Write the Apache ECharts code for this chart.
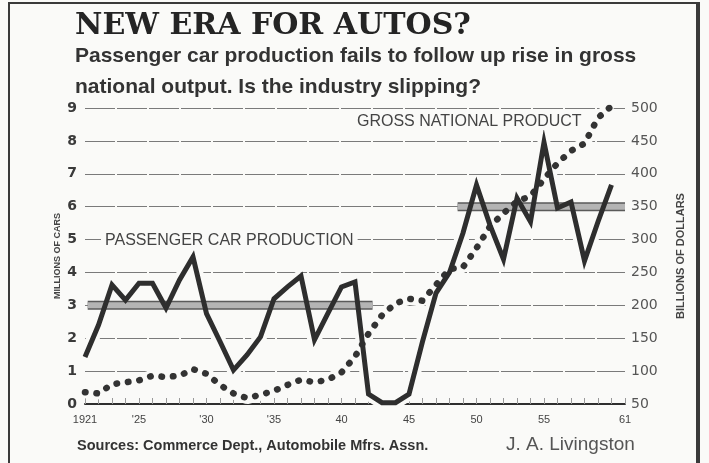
<!DOCTYPE html>
<html>
<head>
<meta charset="utf-8">
<title>New era for autos?</title>
<script src="https://cdn.jsdelivr.net/npm/echarts@6/dist/echarts.min.js"></script>
<style>
  html, body { margin: 0; padding: 0; background: #fafaf8; }
  #frame {
    position: absolute; left: 8px; top: 2px; width: 686px; height: 480px;
    border-left: 2px solid #3a3a3a; border-top: 2px solid #3a3a3a; border-right: 4px solid #3a3a3a;
  }
  #chart { position: absolute; left: 0; top: 0; width: 709px; height: 463px; }
</style>
</head>
<body>
<div id="frame"></div>
<div id="chart"></div>
<script>
// years on the x axis
const years = [
  1921, 1922, 1923, 1924, 1925, 1926, 1927, 1928, 1929, 1930,
  1931, 1932, 1933, 1934, 1935, 1936, 1937, 1938, 1939, 1940,
  1941, 1942, 1943, 1944, 1945, 1946, 1947, 1948, 1949, 1950,
  1951, 1952, 1953, 1954, 1955, 1956, 1957, 1958, 1959, 1960
]

// passenger car production, millions of cars (left axis)
const carProduction = [
  1.43, 2.4, 3.62, 3.16, 3.67, 3.67, 2.92, 3.77, 4.47, 2.75,
  1.9, 1.03, 1.49, 2.04, 3.2, 3.56, 3.89, 1.95, 2.76, 3.56,
  3.71, 0.3, 0.04, 0.04, 0.3, 1.9, 3.37, 4.0, 5.2, 6.66,
  5.44, 4.4, 6.26, 5.54, 7.96, 5.96, 6.14, 4.35, 5.54, 6.66
]

// gross national product, billions of dollars (right axis)
const gnp = [
  68, 66, 80, 83, 86, 93, 91, 93, 103, 96,
  79, 66, 59, 64, 70, 79, 87, 83, 87, 98,
  122, 157, 185, 203, 210, 207, 231, 255, 258, 287,
  320, 340, 358, 366, 392, 416, 435, 446, 485, 503
]

// average production levels drawn as shaded bands: [fromYear, toYear, level]
const carBands = [
  [1921.2, 1942.3, 3],
  [1948.6, 1961, 6]
]

const xTickYears = [1921, 1925, 1930, 1935, 1940, 1945, 1950, 1955, 1961]
const xTickLabels = ['1921', "'25", "'30", "'35", '40', '45', '50', '55', '61']

const carPoints = years.map((y, i) => [y, carProduction[i]])
const gnpPoints = years.map((y, i) => [y, gnp[i]])
// each band becomes a short flat segment, bands split by an empty point
const bandPoints = []
carBands.forEach((b, i) => {
  if (i > 0) bandPoints.push(['-', '-'])
  bandPoints.push([b[0], b[2]], [b[1], b[2]])
})

const ink = '#2e2e2e'
const paper = '#fafaf8'
const sans = 'Liberation Sans, Arial, sans-serif'
const wide = 'DejaVu Sans, sans-serif'

const chart = echarts.init(document.getElementById('chart'))

const option = {
  backgroundColor: 'transparent',
  animation: false,
  title: [
    {
      text: 'NEW ERA FOR AUTOS?',
      left: 75, top: 11, padding: 0,
      textStyle: { fontFamily: 'DejaVu Serif', fontWeight: 'bold', fontSize: 30, color: '#242424' }
    },
    {
      text: 'Passenger car production fails to follow up rise in gross\nnational output. Is the industry slipping?',
      left: 75, top: 41, padding: 0,
      textStyle: { fontFamily: sans, fontWeight: 'bold', fontSize: 21, lineHeight: 31, color: '#333' }
    },
    {
      text: 'PASSENGER CAR PRODUCTION',
      left: 101, top: 233, padding: [0, 4],
      backgroundColor: paper,
      textStyle: { fontFamily: sans, fontWeight: 'normal', fontSize: 16, color: '#444' }
    },
    {
      text: 'GROSS NATIONAL PRODUCT',
      left: 353, top: 114, padding: [0, 4],
      backgroundColor: paper,
      textStyle: { fontFamily: sans, fontWeight: 'normal', fontSize: 16, color: '#444' }
    },
    {
      text: 'Sources: Commerce Dept., Automobile Mfrs. Assn.',
      left: 77, top: 438, padding: 0,
      textStyle: { fontFamily: sans, fontWeight: 'bold', fontSize: 14.5, color: '#333' }
    },
    {
      text: 'J. A. Livingston',
      left: 506, top: 435, padding: 0,
      textStyle: { fontFamily: sans, fontWeight: 'normal', fontSize: 19, color: '#555' }
    }
  ],
  grid: { left: 85, right: 84, top: 108, bottom: 59 },
  xAxis: {
    type: 'value',
    min: 1921,
    max: 1961,
    interval: 1,
    axisLine: { show: true, lineStyle: { color: ink, width: 2 } },
    axisTick: { show: true, inside: true, length: 6, lineStyle: { color: '#999' } },
    splitLine: { show: false },
    axisLabel: {
      margin: 10,
      fontFamily: sans,
      fontSize: 11,
      color: '#444',
      formatter: (v) => {
        const idx = xTickYears.indexOf(v)
        return idx >= 0 ? xTickLabels[idx] : ''
      }
    }
  },
  yAxis: [
    {
      type: 'value',
      position: 'left',
      min: 0,
      max: 9,
      interval: 1,
      name: 'MILLIONS OF CARS',
      nameLocation: 'middle',
      nameRotate: 90,
      nameGap: 23,
      nameMoveOverlap: false,
      nameTextStyle: { fontFamily: sans, fontWeight: 'bold', fontSize: 9, color: '#444' },
      axisLine: { show: false },
      axisTick: { show: false },
      axisLabel: { margin: 8, fontFamily: wide, fontWeight: 'bold', fontSize: 14, color: '#3a3a3a' },
      splitLine: { show: true, lineStyle: { color: '#7a7a7a', width: 1, type: [30, 2] } }
    },
    {
      type: 'value',
      position: 'right',
      min: 50,
      max: 500,
      interval: 50,
      name: 'BILLIONS OF DOLLARS',
      nameLocation: 'middle',
      nameRotate: 90,
      nameGap: 50,
      nameTextStyle: { fontFamily: sans, fontWeight: 'bold', fontSize: 11, color: '#444' },
      axisLine: { show: false },
      axisTick: { show: false },
      axisLabel: { margin: 6, fontFamily: wide, fontSize: 14, color: '#555' },
      splitLine: { show: false }
    }
  ],
  series: [
    // white halos so grid lines break around the curves
    {
      type: 'line', yAxisIndex: 0, data: carPoints, showSymbol: false, silent: true, z: 2,
      lineStyle: { color: paper, width: 13 }
    },
    {
      type: 'line', yAxisIndex: 1, data: gnpPoints, showSymbol: false, silent: true, z: 2,
      lineStyle: { color: paper, width: 12 }
    },
    // shaded average bands: dark outline with a lighter core
    {
      type: 'line', yAxisIndex: 0, data: bandPoints, showSymbol: false, silent: true, z: 3,
      connectNulls: false,
      lineStyle: { color: '#5a5a5a', width: 9, cap: 'butt' }
    },
    {
      type: 'line', yAxisIndex: 0, data: bandPoints, showSymbol: false, silent: true, z: 3,
      connectNulls: false,
      lineStyle: { color: '#b4b4b4', width: 6, cap: 'butt' }
    },
    {
      name: 'Gross national product',
      type: 'line',
      yAxisIndex: 1,
      data: gnpPoints,
      showSymbol: false,
      z: 4,
      lineStyle: { color: '#333', width: 6.5, type: [0.5, 11], cap: 'round' }
    },
    {
      name: 'Passenger car production',
      type: 'line',
      yAxisIndex: 0,
      data: carPoints,
      showSymbol: false,
      z: 5,
      lineStyle: { color: ink, width: 5, join: 'miter' }
    }
  ]
}

chart.setOption(option)
</script>
</body>
</html>
